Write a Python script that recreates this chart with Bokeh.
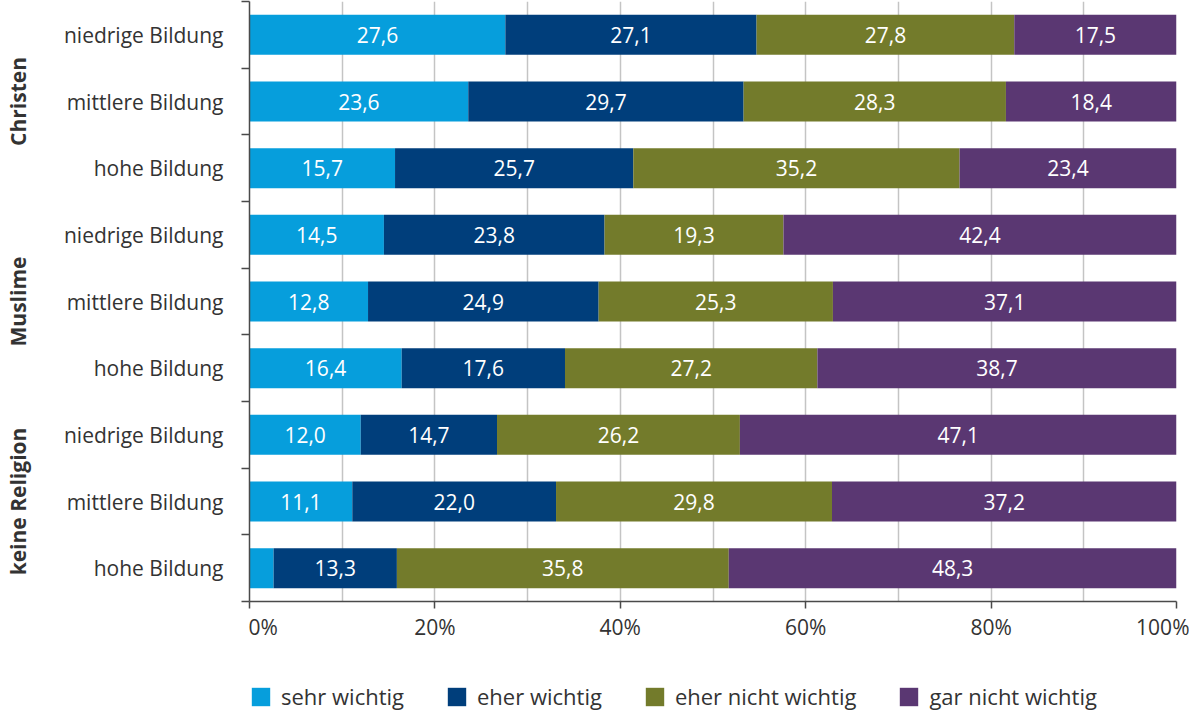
import numpy as np
from bokeh.plotting import figure
from bokeh.layouts import column
from bokeh.models import (ColumnDataSource, FixedTicker, Legend, LegendItem, Range1d,
                          LinearAxis)
from bokeh.core.properties import value
from bokeh.embed import file_html
from bokeh.resources import INLINE

groups = ["Christen", "Muslime", "keine Religion"]
levels = ["niedrige Bildung", "mittlere Bildung", "hohe Bildung"]
series = ["sehr wichtig", "eher wichtig", "eher nicht wichtig", "gar nicht wichtig"]
colors = ["#069edc", "#003e7b", "#737b2b", "#5a3772"]
sehr_wichtig = [27.6, 23.6, 15.7, 14.5, 12.8, 16.4, 12.0, 11.1, 2.6]
eher_wichtig = [27.1, 29.7, 25.7, 23.8, 24.9, 17.6, 14.7, 22.0, 13.3]
eher_nicht_wichtig = [27.8, 28.3, 35.2, 19.3, 25.3, 27.2, 26.2, 29.8, 35.8]
gar_nicht_wichtig = [17.5, 18.4, 23.4, 42.4, 37.1, 38.7, 47.1, 37.2, 48.3]
x_ticks = [0, 20, 40, 60, 80, 100]
x_tick_labels = ["0%", "20%", "40%", "60%", "80%", "100%"]

FONT = "Open Sans"
FS = "21px"
TXT = "#333333"
AX = "#4a4a4a"
NB = "\u00a0"

vals = np.array([sehr_wichtig, eher_wichtig, eher_nicht_wichtig, gar_nicht_wichtig])
shares = vals / vals.sum(axis=0) * 100
rights = np.cumsum(shares, axis=0)
lefts = rights - shares

n = len(sehr_wichtig)
row_labels = [lv for g in groups for lv in levels]
ys = [n - 0.5 - i for i in range(n)]
group_ys = [n - 1.5 - 3 * gi for gi in range(len(groups))]

p = figure(frame_width=927, frame_height=600,
           x_range=Range1d(0, 100), y_range=Range1d(0, n),
           output_backend="svg", toolbar_location=None,
           min_border_left=244, min_border_right=13, min_border_top=1, min_border_bottom=45)
p.outline_line_color = None
p.background_fill_color = "white"

# grid
p.xgrid.ticker = FixedTicker(ticks=list(range(0, 101, 10)))
p.xgrid.grid_line_color = "#c4c4c4"
p.xgrid.grid_line_width = 1.5
p.ygrid.visible = False

sources = []
for k, name in enumerate(series):
    src = ColumnDataSource(dict(y=ys, left=lefts[k], right=rights[k]))
    sources.append(src)
    p.hbar(y="y", left="left", right="right", height=0.6, source=src,
           fill_color=colors[k], line_color=None)
    tx, ty, tt = [], [], []
    for i in range(n):
        if vals[k][i] >= 5:
            tx.append((lefts[k][i] + rights[k][i]) / 2)
            ty.append(ys[i])
            tt.append(f"{vals[k][i]:.1f}".replace(".", ","))
    p.text(x=tx, y=ty, text=tt, text_align="center", text_baseline="middle",
           text_color="white", text_font=value(FONT), text_font_size=FS)

# y axis (row labels)
yax = p.yaxis[0]
yax.ticker = FixedTicker(ticks=ys, minor_ticks=list(range(0, n + 1)))
yax.major_label_overrides = {float(y): lab for y, lab in zip(ys, row_labels)}
yax.major_tick_out = 0
yax.major_tick_in = 0
yax.minor_tick_out = 8
yax.minor_tick_in = 0
yax.minor_tick_line_color = AX
yax.minor_tick_line_width = 1.5
yax.axis_line_color = AX
yax.axis_line_width = 1.5
yax.major_label_standoff = 18
yax.major_label_text_font = FONT
yax.major_label_text_font_size = FS
yax.major_label_text_color = TXT

# outer y axis (group labels)
gax = LinearAxis(ticker=FixedTicker(ticks=group_ys, minor_ticks=[]),
                 major_label_overrides={float(y): g for y, g in zip(group_ys, groups)},
                 major_label_orientation="vertical",
                 axis_line_color=None, major_tick_line_color=None,
                 minor_tick_line_color=None, major_tick_out=0, major_tick_in=0,
                 major_label_standoff=29,
                 major_label_text_font=FONT, major_label_text_font_size=FS,
                 major_label_text_font_style="bold", major_label_text_color=TXT)
p.add_layout(gax, "left")

# x axis
xax = p.xaxis[0]
xax.ticker = FixedTicker(ticks=x_ticks, minor_ticks=[])
overrides = {float(t): lab for t, lab in zip(x_ticks, x_tick_labels)}
overrides[float(x_ticks[0])] = NB * 5 + x_tick_labels[0]
xax.major_label_overrides = overrides
xax.major_tick_out = 7
xax.major_tick_in = 0
xax.major_tick_line_color = AX
xax.major_tick_line_width = 1.5
xax.axis_line_color = AX
xax.axis_line_width = 1.5
xax.major_label_standoff = 4
xax.major_label_text_font = FONT
xax.major_label_text_font_size = FS
xax.major_label_text_color = TXT

# legend in its own strip below the chart (its bars lie outside its visible ranges)
lg = figure(width=1184, height=65, x_range=Range1d(200, 201), y_range=Range1d(100, 101),
            output_backend="svg", toolbar_location=None,
            min_border_left=0, min_border_right=0, min_border_top=0, min_border_bottom=0,
            x_axis_type=None, y_axis_type=None)
lg.outline_line_color = None
lg.grid.visible = False
swatches = []
for k, name in enumerate(series):
    swatches.append(lg.hbar(y="y", left="left", right="right", height=0.6, source=sources[k],
                            fill_color=colors[k], line_color=None))
legend = Legend(items=[LegendItem(label=s, renderers=[r]) for s, r in zip(series, swatches)],
                orientation="horizontal", location=(0, 0),
                glyph_width=23, glyph_height=23, label_height=23,
                label_standoff=9, spacing=41, padding=0, margin=0,
                label_text_font=FONT, label_text_font_size="22px", label_text_color=TXT,
                border_line_color=None, background_fill_alpha=0)
lg.add_layout(legend, "center")

layout = column(p, lg, spacing=0)
open("out.html", "w").write(file_html(layout, INLINE))
